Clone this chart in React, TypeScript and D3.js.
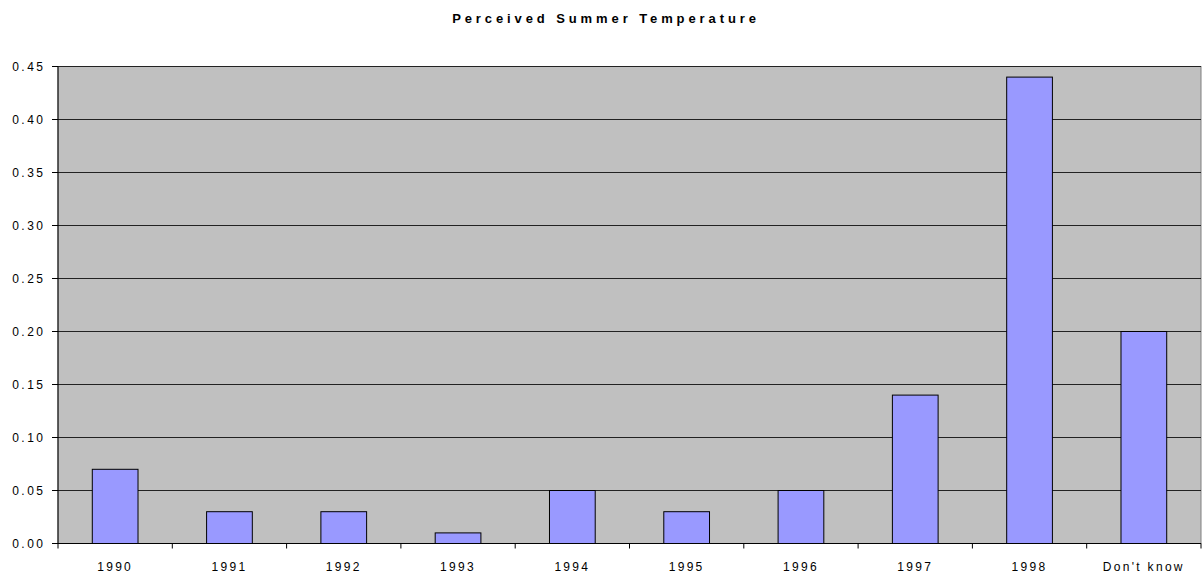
import React from 'react';
import * as d3 from 'd3';

const categories = ['1990', '1991', '1992', '1993', '1994', '1995', '1996', '1997', '1998', "Don't know"];
const values = [0.07, 0.03, 0.03, 0.01, 0.05, 0.03, 0.05, 0.14, 0.44, 0.2];
const yTicks = [0, 0.05, 0.1, 0.15, 0.2, 0.25, 0.3, 0.35, 0.4, 0.45];
const title = 'Perceived Summer Temperature';

const width = 1202;
const height = 575;
const margin = { top: 66.5, right: 1, bottom: 31.5, left: 58 };

const App = () => {
    const innerWidth = width - margin.left - margin.right;
    const innerHeight = height - margin.top - margin.bottom;

    const xScale = d3
        .scaleBand()
        .domain(categories)
        .range([0, innerWidth])
        .paddingInner(0.6)
        .paddingOuter(0.3);

    const yScale = d3.scaleLinear().domain([0, 0.45]).range([innerHeight, 0]);

    const step = xScale.step();
    const font = 'Arial, "Liberation Sans", sans-serif';

    return (
        <svg
            width={width}
            height={height}
            style={{ position: 'absolute', left: 0, top: 0, background: '#fff' }}
        >
            <text
                x={606}
                y={23}
                textAnchor="middle"
                fontFamily={font}
                fontSize={13}
                fontWeight="bold"
                letterSpacing={3.9}
                fill="#000"
            >
                {title}
            </text>
            <g transform={`translate(${margin.left},${margin.top})`}>
                <rect x={0} y={0} width={innerWidth} height={innerHeight} fill="#c0c0c0" stroke="#808080" />
                {yTicks.slice(1).map(t => (
                    <line key={t} x1={0} x2={innerWidth} y1={yScale(t)} y2={yScale(t)} stroke="#222" />
                ))}
                {categories.map((c, i) => (
                    <rect
                        key={c}
                        x={xScale(c)}
                        y={yScale(values[i])}
                        width={xScale.bandwidth()}
                        height={innerHeight - yScale(values[i])}
                        fill="#9999ff"
                        stroke="#000"
                    />
                ))}
                <line x1={0} x2={0} y1={0} y2={innerHeight} stroke="#000" />
                <line x1={0} x2={innerWidth} y1={innerHeight} y2={innerHeight} stroke="#000" />
                {yTicks.map(t => (
                    <g key={t} transform={`translate(0,${yScale(t)})`}>
                        <line x1={-6} x2={0} stroke="#000" />
                        <text
                            x={-12.5}
                            dy="0.35em"
                            textAnchor="end"
                            fontFamily={font}
                            fontSize={12}
                            letterSpacing={2.5}
                            fill="#000"
                        >
                            {t.toFixed(2)}
                        </text>
                    </g>
                ))}
                {d3.range(categories.length + 1).map(i => (
                    <line key={i} x1={i * step} x2={i * step} y1={innerHeight} y2={innerHeight + 5} stroke="#000" />
                ))}
                {categories.map(c => (
                    <text
                        key={c}
                        x={(xScale(c) ?? 0) + xScale.bandwidth() / 2}
                        y={innerHeight + 27.5}
                        textAnchor="middle"
                        fontFamily={font}
                        fontSize={12}
                        letterSpacing={2.3}
                        fill="#000"
                    >
                        {c}
                    </text>
                ))}
            </g>
        </svg>
    );
};

export default App;
